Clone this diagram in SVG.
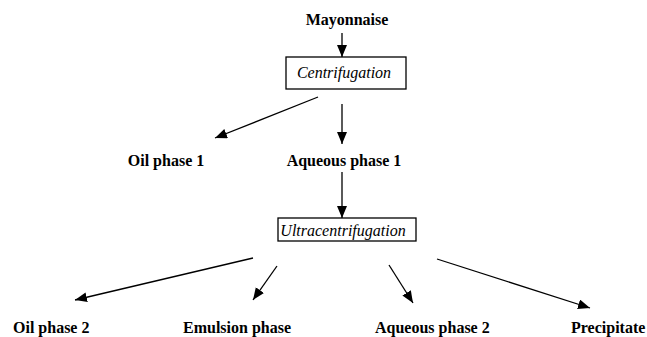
<svg xmlns="http://www.w3.org/2000/svg" width="647" height="337" viewBox="0 0 647 337">
<style>
.lbl{font-family:"Liberation Serif","Times New Roman",serif;font-size:16px;font-weight:bold;fill:#000}
.proc{font-family:"Liberation Serif","Times New Roman",serif;font-size:16px;font-style:italic;fill:#000}
.box{fill:#fff;stroke:#000;stroke-width:1.3}
.edge{stroke:#000;stroke-width:1.3;fill:none}
</style>
<defs>
<marker id="ah" markerUnits="userSpaceOnUse" markerWidth="14" markerHeight="12" refX="12" refY="5" orient="auto">
<path d="M0,0 L12,5 L0,10 Z" fill="#000"/>
</marker>
</defs>
<rect width="647" height="337" fill="#fff"/>
<g id="mayonnaise"><text class="lbl" x="347" y="25" text-anchor="middle">Mayonnaise</text></g>
<g id="centrifugation"><rect class="box" x="286" y="57" width="120" height="32"/><text class="proc" x="344" y="78" text-anchor="middle">Centrifugation</text></g>
<g id="oil1"><text class="lbl" x="166" y="166" text-anchor="middle">Oil phase 1</text></g>
<g id="aq1"><text class="lbl" x="344" y="166" text-anchor="middle">Aqueous phase 1</text></g>
<g id="ultra"><rect class="box" x="278" y="218" width="138" height="23"/><text class="proc" x="343" y="236" text-anchor="middle">Ultracentrifugation</text></g>
<g id="oil2"><text class="lbl" x="13" y="333">Oil phase 2</text></g>
<g id="emulsion"><text class="lbl" x="183" y="333">Emulsion phase</text></g>
<g id="aq2"><text class="lbl" x="375" y="333">Aqueous phase 2</text></g>
<g id="precip"><text class="lbl" x="571" y="333">Precipitate</text></g>
<g id="connectors">
<line class="edge" x1="342" y1="33" x2="342" y2="57" marker-end="url(#ah)"/>
<line class="edge" x1="318" y1="97" x2="215" y2="138" marker-end="url(#ah)"/>
<line class="edge" x1="342" y1="104" x2="342" y2="144" marker-end="url(#ah)"/>
<line class="edge" x1="342" y1="172" x2="342" y2="218" marker-end="url(#ah)"/>
<line class="edge" x1="253" y1="258" x2="75" y2="300" marker-end="url(#ah)"/>
<line class="edge" x1="277" y1="266" x2="253" y2="300" marker-end="url(#ah)"/>
<line class="edge" x1="389" y1="265" x2="413" y2="303" marker-end="url(#ah)"/>
<line class="edge" x1="437" y1="259" x2="590" y2="308" marker-end="url(#ah)"/>
</g>
</svg>
